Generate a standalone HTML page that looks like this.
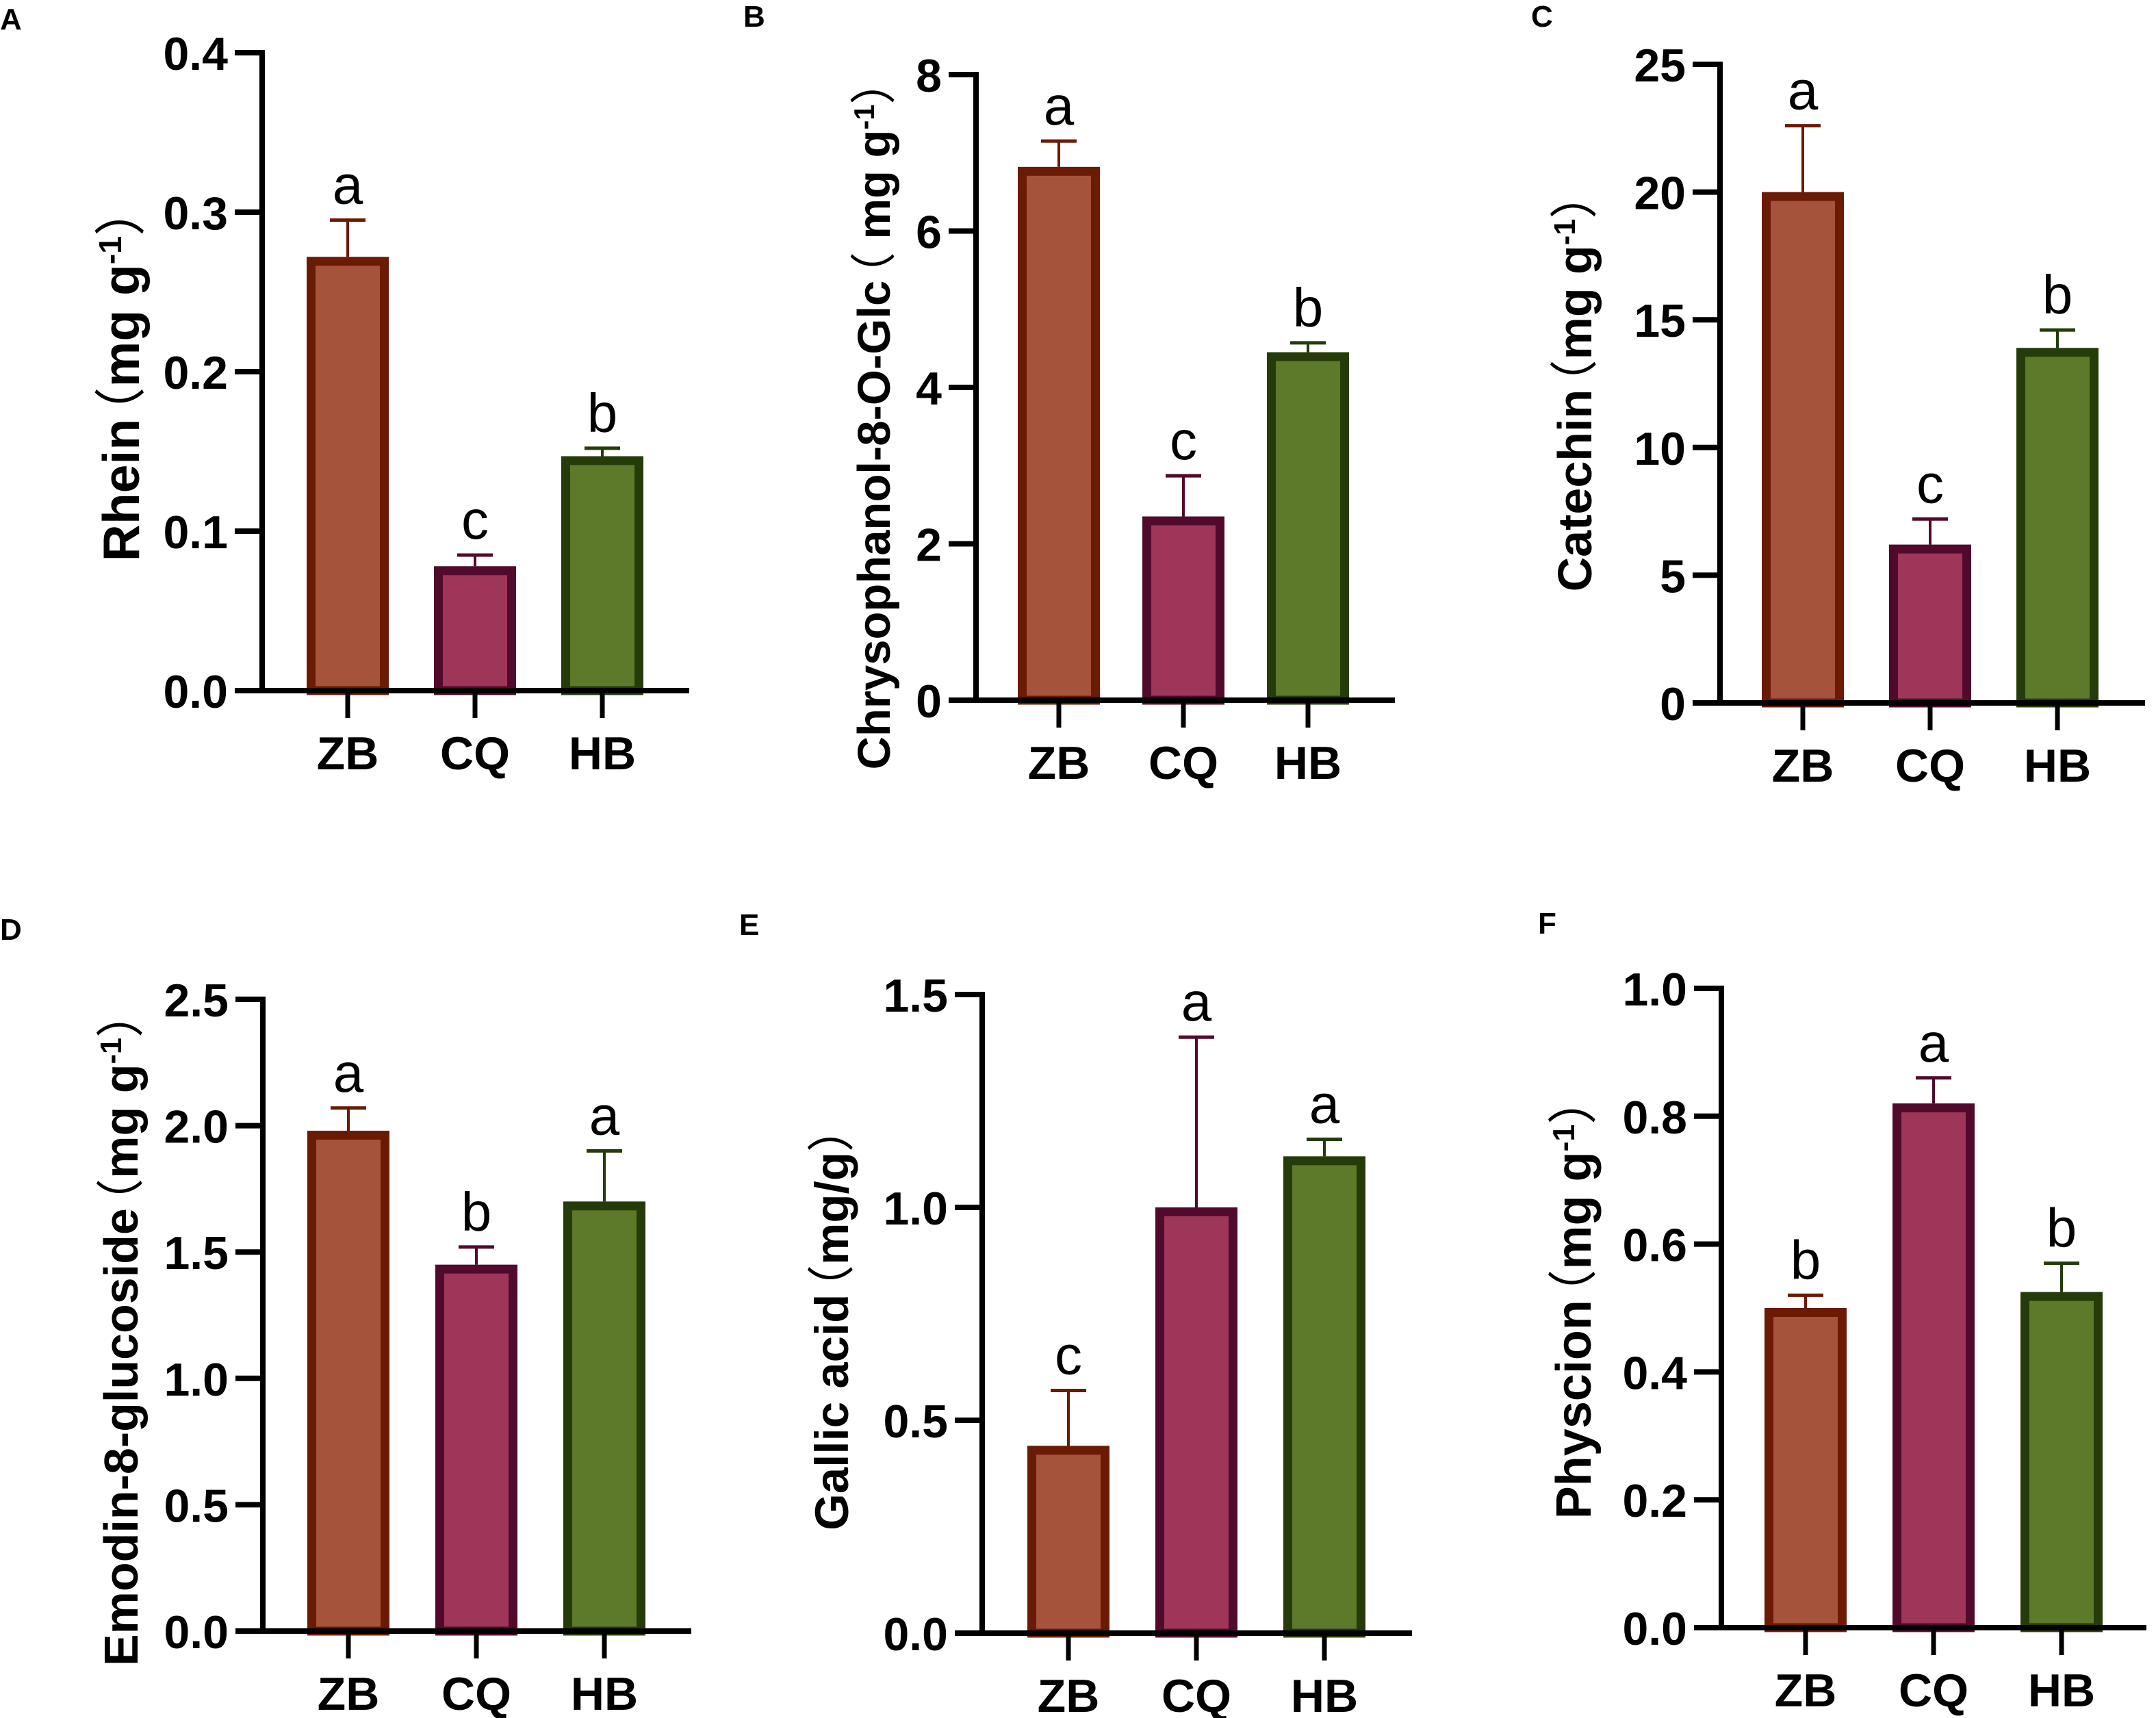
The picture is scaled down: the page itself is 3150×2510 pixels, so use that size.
<!DOCTYPE html>
<html><head><meta charset="utf-8"><style>
html,body{margin:0;padding:0;background:#fff;}
svg{display:block;}
text{font-family:"Liberation Sans","Noto Sans CJK SC",sans-serif;}
</style></head><body>
<svg id="fig" width="3150" height="2510" viewBox="0 0 3150 2510" xmlns="http://www.w3.org/2000/svg"></svg>
<script>
const categories = ["ZB","CQ","HB"];
const rheinValues = [0.272,0.078,0.147];
const rheinErr = [0.295,0.085,0.152];
const rheinLetters = ["a","c","b"];
const rheinTicks = ["0.0","0.1","0.2","0.3","0.4"];
const chrysValues = [6.82,2.35,4.45];
const chrysErr = [7.15,2.87,4.57];
const chrysLetters = ["a","c","b"];
const chrysTicks = ["0","2","4","6","8"];
const catValues = [20.0,6.2,13.9];
const catErr = [22.6,7.2,14.6];
const catLetters = ["a","c","b"];
const catTicks = ["0","5","10","15","20","25"];
const emodinValues = [1.98,1.45,1.70];
const emodinErr = [2.07,1.52,1.90];
const emodinLetters = ["a","b","a"];
const emodinTicks = ["0.0","0.5","1.0","1.5","2.0","2.5"];
const gallicValues = [0.44,1.00,1.12];
const gallicErr = [0.57,1.40,1.16];
const gallicLetters = ["c","a","a"];
const gallicTicks = ["0.0","0.5","1.0","1.5"];
const physValues = [0.50,0.82,0.525];
const physErr = [0.52,0.86,0.57];
const physLetters = ["b","a","b"];
const physTicks = ["0.0","0.2","0.4","0.6","0.8","1.0"];

const NS = "http://www.w3.org/2000/svg";
const svg = document.getElementById('fig');
const fills = ["#a5533a","#9e365a","#5d7a2b"];
const strokes = ["#6b1a04","#520a2c","#253c0a"];

function el(tag, attrs, parent){
  const e = document.createElementNS(NS, tag);
  for (const k in attrs) e.setAttribute(k, attrs[k]);
  (parent||svg).appendChild(e);
  return e;
}

function panel(p){
  const g = el('g', {});
  
  
  const ax = p.axisX, y0 = p.y0, yt = p.yTop, xe = p.xEnd;
  const maxV = parseFloat(p.ticks[p.ticks.length-1]);
  const yS = v => y0 - (v/maxV)*(y0-yt);
  const xS = i => p.c0 + i*p.sp;
  const pl = el('text', {x:p.lx, y:p.ly, 'font-size':44, 'font-weight':'bold', fill:'#000'}, g);
  pl.textContent = p.letter;
  
  
  const bw = 120, sw = 13;
  p.values.forEach((v,i)=>{
    const cx = xS(i);
    const top = p.err[i];
    const eb = el('g', {}, g);
    
    
    el('line', {x1:cx, x2:cx, y1:yS(v), y2:yS(top), stroke:strokes[i], 'stroke-width':4}, eb);
    el('line', {x1:cx-26, x2:cx+26, y1:yS(top), y2:yS(top), stroke:strokes[i], 'stroke-width':5}, eb);
    const r = el('rect', {x:cx-bw/2+sw/2, y:yS(v)+sw/2, width:bw-sw, height:y0-yS(v)-sw/2, fill:fills[i], stroke:strokes[i], 'stroke-width':sw}, g);
    
    
    const t = el('text', {x:cx, y:yS(top)-24, 'font-size':80, 'text-anchor':'middle', fill:'#000'}, g);
    t.textContent = p.letters[i];
    
    
    el('line', {x1:cx, x2:cx, y1:y0, y2:y0+40, stroke:'#000', 'stroke-width':7}, g);
    const c = el('text', {x:cx, y:y0+115, 'font-size':68, 'font-weight':'bold', 'text-anchor':'middle', fill:'#000'}, g);
    c.textContent = categories[i];
    
    
  });
  const ya = el('line', {x1:ax, x2:ax, y1:yt-4, y2:y0+4, stroke:'#000', 'stroke-width':8}, g);
  
  
  const xa = el('line', {x1:ax-40, x2:xe, y1:y0, y2:y0, stroke:'#000', 'stroke-width':8}, g);
  
  
  p.ticks.forEach(tk=>{
    const y = yS(parseFloat(tk));
    el('line', {x1:ax-40, x2:ax, y1:y, y2:y, stroke:'#000', 'stroke-width':8}, g);
    const t = el('text', {x:ax-50, y:y+25, 'font-size':68, 'font-weight':'bold', 'text-anchor':'end', fill:'#000'}, g);
    t.textContent = tk;
    
    
  });
  const fs = p.fs;
  const tt = el('text', {x:0, y:0, 'font-size':fs, 'font-weight':'bold', 'text-anchor':'middle', fill:'#000', transform:`translate(${p.tx + 0.36*fs},${p.ty}) rotate(-90)`}, g);
  tt.innerHTML = p.title;
  
  
}

const sup = '<tspan baseline-shift="super" font-size="0.62em">-1</tspan>';
const lp = '<tspan font-weight="normal" dx="-0.38em">（</tspan>';
const rp = '<tspan font-weight="normal">）</tspan>';
panel({letter:'A', lx:0, ly:43, axisX:383, yTop:77, y0:1009, xEnd:1007, c0:508, sp:186, ticks:rheinTicks, values:rheinValues, err:rheinErr, letters:rheinLetters, tx:176, ty:545, fs:75, title:'Rhein'+lp+'mg g'+sup+rp});
panel({letter:'B', lx:1086, ly:39, axisX:1426, yTop:109, y0:1023, xEnd:2038, c0:1547, sp:182, ticks:chrysTicks, values:chrysValues, err:chrysErr, letters:chrysLetters, tx:1276, ty:605, fs:67, title:'Chrysophanol-8-O-Glc'+lp+' mg g'+sup+rp});
panel({letter:'C', lx:2237, ly:39, axisX:2513, yTop:94, y0:1027, xEnd:3134, c0:2634, sp:186, ticks:catTicks, values:catValues, err:catErr, letters:catLetters, tx:2300, ty:557, fs:70, title:'Catechin'+lp+'mg g'+sup+rp});
panel({letter:'D', lx:0, ly:1373, axisX:384, yTop:1460, y0:2383, xEnd:1010, c0:509, sp:187, ticks:emodinTicks, values:emodinValues, err:emodinErr, letters:emodinLetters, tx:176, ty:1940, fs:70, title:'Emodin-8-glucoside'+lp+'mg g'+sup+rp});
panel({letter:'E', lx:1080, ly:1366, axisX:1435, yTop:1453, y0:2386, xEnd:2063, c0:1561, sp:187, ticks:gallicTicks, values:gallicValues, err:gallicErr, letters:gallicLetters, tx:1214, ty:1925, fs:69, title:'Gallic acid'+lp+'mg/g'+rp});
panel({letter:'F', lx:2247, ly:1364, axisX:2515, yTop:1444, y0:2378, xEnd:3136, c0:2638, sp:187, ticks:physTicks, values:physValues, err:physErr, letters:physLetters, tx:2298, ty:1895, fs:72, title:'Physcion'+lp+'mg g'+sup+rp});
</script>
</body></html>
